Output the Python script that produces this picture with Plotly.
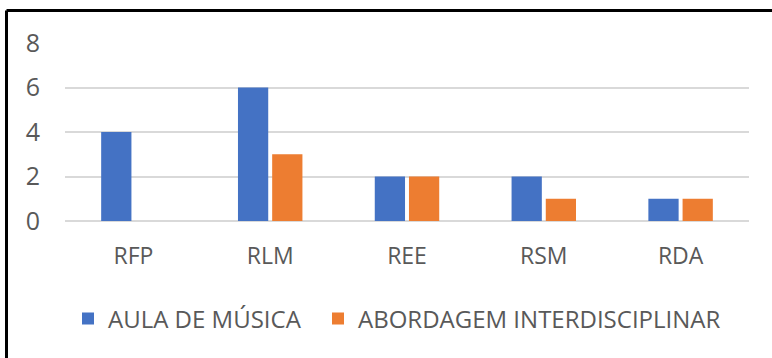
import plotly.graph_objects as go

categories = ["RFP", "RLM", "REE", "RSM", "RDA"]
aula_musica = [4, 6, 2, 2, 1]
abordagem = [0, 3, 2, 1, 1]
series_names = ["AULA DE MÚSICA", "ABORDAGEM INTERDISCIPLINAR"]
y_ticks = [0, 2, 4, 6, 8]

FONT = "Open Sans"
TXT = "#595959"

fig = go.Figure()
fig.add_trace(go.Bar(x=categories, y=aula_musica, name=series_names[0], legend="legend",
                     marker=dict(color="#4472C4", line=dict(width=0))))
fig.add_trace(go.Bar(x=categories, y=abordagem, name=series_names[1], legend="legend2",
                     marker=dict(color="#ED7D31", line=dict(width=0))))

W, H = 772, 358
L, R, T, B = 65, 23, 43, 137
pw = W - L - R
ph = H - T - B

def px_x(x):
    return (x - L) / pw

def px_y(y):
    return (H - B - y) / ph

leg_common = dict(orientation="h", xanchor="left", y=px_y(319), yanchor="middle",
                  font=dict(size=24, color=TXT, family=FONT), itemwidth=30,
                  bgcolor="rgba(0,0,0,0)")

fig.update_layout(
    width=W, height=H,
    margin=dict(l=L, r=R, t=T, b=B),
    paper_bgcolor="white", plot_bgcolor="white",
    barmode="group", bargap=0.5, bargroupgap=0.115,
    font=dict(family=FONT, color=TXT, size=22),
    xaxis=dict(showgrid=False, showline=False, ticks="",
               tickfont=dict(size=23, color=TXT), ticklabelstandoff=19),
    yaxis=dict(range=[0, 8], tickvals=y_ticks, showgrid=True, gridcolor="#D9D9D9",
               gridwidth=1.5, zeroline=True, zerolinecolor="#D9D9D9", zerolinewidth=1.5,
               showline=False, ticks="", tickfont=dict(size=25, color=TXT),
               ticklabelstandoff=24),
    legend=dict(x=px_x(68), **leg_common),
    legend2=dict(x=px_x(318), **leg_common),
    showlegend=True,
    shapes=[
        dict(type="line", xref="paper", yref="paper", x0=px_x(6.5), x1=px_x(790),
             y0=px_y(10.5), y1=px_y(10.5), line=dict(color="black", width=3)),
        dict(type="line", xref="paper", yref="paper", x0=px_x(6.5), x1=px_x(6.5),
             y0=px_y(10.5), y1=px_y(380), line=dict(color="black", width=3)),
    ],
)

fig.write_html("out.html")
